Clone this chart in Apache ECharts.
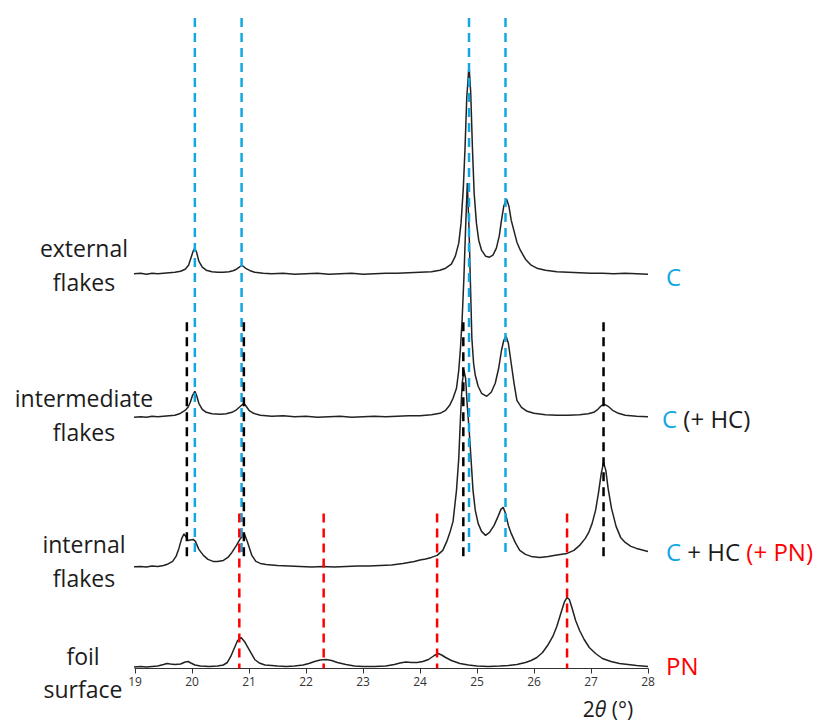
<!DOCTYPE html>
<html>
<head>
<meta charset="utf-8">
<title>XRD patterns of flakes and foil surface</title>
<script src="https://cdn.jsdelivr.net/npm/echarts@6/dist/echarts.min.js"></script>
<style>
	html, body { margin: 0; padding: 0; background: #fff; }
	#chart { width: 819px; height: 722px; }
</style>
</head>
<body>
<div id="chart"></div>
<script>
// 2theta ticks
const thetaTicks = [19, 20, 21, 22, 23, 24, 25, 26, 27, 28];

// patterns, [2theta, intensity (offset stacked, arbitrary units)]
const external = [
	[18.97, 394.5], [19.1, 395], [19.2, 394], [19.3, 395], [19.4, 394.5], [19.5, 395],
	[19.6, 395.5], [19.7, 396], [19.8, 397], [19.88, 399], [19.94, 403], [19.98, 410],
	[20.02, 417], [20.05, 420], [20.08, 416], [20.12, 407], [20.18, 401], [20.25, 398],
	[20.35, 396.5], [20.45, 396], [20.55, 396], [20.65, 396.5], [20.72, 397.5], [20.78, 399],
	[20.83, 401], [20.87, 402.5], [20.9, 402], [20.95, 399.5], [21.02, 397.5], [21.1, 396],
	[21.25, 395], [21.4, 394.5], [21.6, 395], [21.8, 394], [22.0, 394.5], [22.2, 395],
	[22.4, 394], [22.6, 394.5], [22.8, 395], [23.0, 394], [23.2, 394.5], [23.4, 395],
	[23.6, 395], [23.8, 395.5], [24.0, 396], [24.2, 396.5], [24.35, 398], [24.45, 400],
	[24.55, 404], [24.62, 412], [24.68, 425], [24.72, 445], [24.76, 480], [24.79, 520],
	[24.82, 570], [24.86, 603], [24.89, 575], [24.92, 520], [24.95, 475], [24.99, 445],
	[25.03, 428], [25.08, 418], [25.15, 412], [25.22, 411], [25.28, 413], [25.34, 420],
	[25.39, 432], [25.43, 448], [25.47, 462], [25.52, 469], [25.56, 462], [25.6, 448],
	[25.65, 437], [25.7, 426], [25.76, 418], [25.85, 409], [25.95, 403], [26.05, 400],
	[26.2, 398], [26.4, 396.5], [26.6, 396], [26.8, 395.5], [27.0, 395], [27.2, 395],
	[27.4, 394.5], [27.6, 395], [27.8, 394.5], [28.0, 394]
];

const intermediate = [
	[18.95, 251], [19.1, 251.5], [19.2, 251], [19.3, 252], [19.4, 251.5], [19.5, 252],
	[19.6, 252.5], [19.7, 253], [19.78, 254.5], [19.85, 257], [19.89, 258.5], [19.93, 261],
	[19.97, 266], [20.01, 273], [20.05, 277], [20.08, 273], [20.12, 265], [20.18, 259],
	[20.25, 256], [20.35, 254.5], [20.5, 254], [20.6, 254.5], [20.7, 256], [20.78, 258.5],
	[20.85, 262], [20.91, 265], [20.95, 262], [21.0, 258], [21.08, 255], [21.2, 253],
	[21.4, 252], [21.6, 252.5], [21.8, 251.5], [22.0, 252], [22.2, 251], [22.4, 251.5],
	[22.6, 252], [22.8, 251], [23.0, 251.5], [23.2, 252], [23.4, 251.5], [23.6, 252],
	[23.8, 252.5], [24.0, 252.5], [24.2, 253.5], [24.35, 255], [24.45, 258], [24.52, 263],
	[24.58, 270], [24.64, 280], [24.68, 298], [24.71, 320], [24.74, 350], [24.77, 390],
	[24.8, 440], [24.83, 485], [24.86, 440], [24.88, 395], [24.91, 330], [24.94, 305],
	[24.97, 293], [25.02, 282], [25.08, 275], [25.17, 272], [25.25, 276], [25.32, 285],
	[25.38, 300], [25.43, 318], [25.47, 328], [25.51, 332], [25.55, 325], [25.6, 305],
	[25.65, 285], [25.7, 268], [25.78, 261], [25.88, 257], [26.0, 255], [26.2, 253.5],
	[26.4, 253], [26.6, 253], [26.8, 253.5], [26.95, 254.5], [27.05, 256], [27.12, 259],
	[27.18, 262.5], [27.24, 264], [27.3, 262], [27.38, 258], [27.48, 255], [27.6, 253],
	[27.8, 252], [28.0, 251.5]
];

const internal = [
	[18.95, 101.5], [19.1, 102], [19.2, 101.5], [19.3, 102.5], [19.4, 102], [19.5, 103],
	[19.58, 104.5], [19.66, 107], [19.72, 112], [19.77, 120], [19.82, 130], [19.86, 134.5],
	[19.9, 131], [19.93, 128], [19.97, 128.5], [20.02, 129], [20.06, 127], [20.12, 119],
	[20.2, 113], [20.28, 109], [20.37, 107], [20.45, 107], [20.55, 108], [20.63, 111],
	[20.7, 116], [20.78, 123], [20.85, 130], [20.92, 134.5], [20.97, 127], [21.05, 113],
	[21.12, 107], [21.2, 105], [21.3, 104], [21.5, 103], [21.7, 102.5], [21.9, 102],
	[22.1, 101.5], [22.3, 102], [22.5, 101.5], [22.7, 102], [22.9, 102.5], [23.1, 102.5],
	[23.3, 103], [23.5, 103.5], [23.7, 105], [23.9, 107], [24.0, 108.5], [24.1, 109.5],
	[24.2, 111], [24.3, 113], [24.4, 118], [24.47, 127], [24.53, 137], [24.58, 147],
	[24.64, 178], [24.68, 210], [24.71, 250], [24.74, 285], [24.77, 298], [24.8, 290],
	[24.83, 262], [24.86, 240], [24.9, 205], [24.93, 178], [24.97, 158], [25.02, 145],
	[25.08, 137], [25.15, 133], [25.22, 136], [25.3, 143], [25.37, 152], [25.42, 159],
	[25.46, 161], [25.5, 155], [25.55, 143], [25.6, 135], [25.67, 126], [25.75, 118],
	[25.85, 114], [25.95, 112], [26.1, 111], [26.25, 112], [26.4, 113.5], [26.58, 115],
	[26.7, 118], [26.8, 123], [26.9, 130], [26.96, 136], [27.02, 145], [27.08, 158],
	[27.13, 175], [27.18, 195], [27.22, 206], [27.26, 198], [27.3, 180], [27.36, 160],
	[27.44, 142], [27.52, 131], [27.6, 126], [27.7, 122], [27.8, 120], [27.9, 118.5],
	[28.0, 117]
];

const foil = [
	[18.95, 1.5], [19.1, 2], [19.2, 1.5], [19.3, 2], [19.4, 2.5], [19.5, 4], [19.56, 5],
	[19.62, 4.5], [19.7, 4], [19.8, 4.5], [19.88, 6.5], [19.93, 7], [19.98, 5.5],
	[20.05, 3.5], [20.15, 2.5], [20.3, 2], [20.45, 2.5], [20.55, 3.5], [20.62, 6],
	[20.68, 12], [20.74, 20], [20.8, 28], [20.86, 31], [20.92, 27], [20.98, 21],
	[21.04, 15], [21.1, 9], [21.18, 5.5], [21.28, 3.5], [21.4, 3], [21.5, 2.5],
	[21.65, 2], [21.8, 2.5], [21.95, 3.5], [22.05, 5], [22.15, 7], [22.25, 8.5],
	[22.35, 9], [22.45, 8], [22.55, 6], [22.7, 4], [22.85, 2.5], [23.0, 2], [23.2, 2],
	[23.4, 2.5], [23.55, 4], [23.65, 5.5], [23.75, 6.5], [23.85, 6], [23.95, 6],
	[24.05, 7], [24.15, 9], [24.25, 13], [24.32, 15], [24.38, 13.5], [24.45, 11],
	[24.55, 8], [24.7, 5], [24.85, 3.5], [25.0, 2.5], [25.2, 2], [25.4, 2.5], [25.55, 3],
	[25.7, 4], [25.85, 6], [25.95, 8], [26.05, 11], [26.15, 16], [26.25, 24], [26.33, 32],
	[26.4, 42], [26.47, 55], [26.53, 66], [26.58, 71], [26.62, 69], [26.67, 60],
	[26.73, 48], [26.8, 38], [26.88, 29], [26.97, 21], [27.08, 15], [27.2, 10],
	[27.35, 7], [27.5, 5], [27.65, 4], [27.8, 3], [27.9, 2.5], [28.0, 2]
];

// reference peak positions (2theta) and the intensity range their markers span
const cPeaks = [20.05, 20.87, 24.86, 25.5];
const cSpan = [650, 116];
const hcPeaks = [19.91, 20.91, 24.76, 27.22];
const hcSpan = [346, 111];
const pnPeaks = [20.83, 22.31, 24.3, 26.58];
const pnSpan = [155, 0];

const BLUE = "#12A7E3";
const RED = "#FF0000";
const INK = "#1c1c1c";
const FONT = "'Open Sans', sans-serif";

function traceSeries(name, data) {
	return {
		name,
		type: "line",
		data,
		symbol: "none",
		clip: false,
		silent: true,
		z: 2,
		lineStyle: { color: "#222", width: 1.5 },
	};
}

function refSeries(peaks, span, color) {
	return peaks.map((x) => ({
		type: "line",
		data: [[x, span[0]], [x, span[1]]],
		symbol: "none",
		silent: true,
		z: 3,
		lineStyle: { color, width: 2.5, type: [9, 6] },
	}));
}

function label(text, x, y, extra) {
	return {
		type: "text",
		style: Object.assign({
			text, x, y,
			font: "23px " + FONT,
			fill: INK,
			align: "center",
			verticalAlign: "middle",
		}, extra || {}),
	};
}

const chart = echarts.init(document.getElementById("chart"), null, { renderer: "svg" });

chart.setOption({
	animation: false,
	textStyle: { fontFamily: FONT },
	grid: { left: 135, right: 171, top: 18, bottom: 53.5 },
	xAxis: {
		type: "value",
		min: thetaTicks[0],
		max: thetaTicks[thetaTicks.length - 1],
		interval: 1,
		axisLine: { show: true, lineStyle: { color: "#333", width: 1 } },
		axisTick: { show: true, length: 5, lineStyle: { color: "#333" } },
		axisLabel: { color: "#333", fontSize: 12, margin: 7, fontFamily: FONT },
		splitLine: { show: false },
	},
	yAxis: { type: "value", min: 0, max: 650, show: false },
	series: [
		traceSeries("external flakes", external),
		traceSeries("intermediate flakes", intermediate),
		traceSeries("internal flakes", internal),
		traceSeries("foil surface", foil),
		...refSeries(cPeaks, cSpan, BLUE),
		...refSeries(hcPeaks, hcSpan, "#000"),
		...refSeries(pnPeaks, pnSpan, RED),
	],
	graphic: [
		label("external", 84, 248),
		label("flakes", 84, 282),
		label("intermediate", 84, 398),
		label("flakes", 84, 432),
		label("internal", 84, 544),
		label("flakes", 84, 578),
		label("foil", 83, 656),
		label("surface", 83, 689),
		label("C", 666, 276, { align: "left", font: "24px " + FONT, fill: BLUE }),
		label("{c|C} {k|(+ HC)}", 662, 418, {
			align: "left", font: "24px " + FONT,
			rich: { c: { fill: BLUE, font: "24px " + FONT }, k: { fill: INK, font: "24px " + FONT } },
		}),
		label("{c|C} {k|+ HC} {r|(+ PN)}", 666, 551, {
			align: "left", font: "24px " + FONT,
			rich: {
				c: { fill: BLUE, font: "24px " + FONT },
				k: { fill: INK, font: "24px " + FONT },
				r: { fill: RED, font: "24px " + FONT },
			},
		}),
		label("PN", 666, 665, { align: "left", font: "24px " + FONT, fill: RED }),
		label("{n|2}{t|θ}{n| (°)}", 608, 709, {
			font: "21px " + FONT,
			rich: {
				n: { fill: INK, font: "21px " + FONT },
				t: { fill: INK, font: "italic 21px " + FONT },
			},
		}),
	],
});
</script>
</body>
</html>
